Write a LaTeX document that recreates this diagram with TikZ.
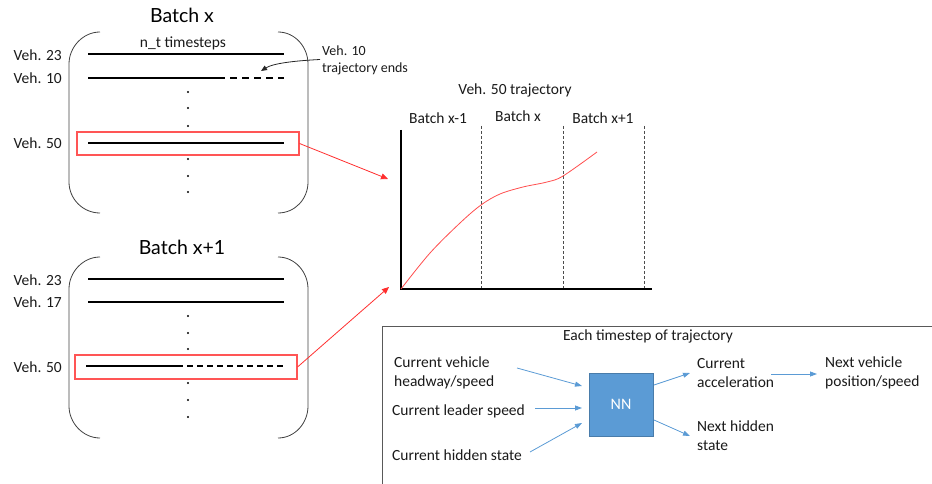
\documentclass[tikz,border=0pt]{standalone}
\usepackage{fontspec}
\setmainfont{Carlito}
\newfontfamily\titlefont{Lato}
\usetikzlibrary{arrows.meta}
\definecolor{boxred}{HTML}{FF5555}
\definecolor{arrred}{HTML}{FF2E2E}
\definecolor{nnblue}{HTML}{5B9BD5}
\definecolor{txt}{HTML}{1A1A1A}
\begin{document}
\begin{tikzpicture}[x=1pt,y=-1pt,
  lbl/.style={font=\fontsize{15.5}{19}\selectfont, text=txt, inner sep=0pt, align=left},
  ttl/.style={font=\titlefont\fontsize{19.5}{22}\selectfont, text=black, inner sep=0pt},
  traj/.style={line width=1.4pt, black},
  bracket/.style={draw=black!75, line width=0.8pt},
  redbox/.style={draw=boxred, line width=1.1pt, minimum width=222pt, minimum height=23pt, inner sep=0pt},
  redarr/.style={draw=arrred, line width=0.8pt, -{Triangle[length=7pt,width=6pt]}},
  bluearr/.style={draw=nnblue, line width=0.8pt, -{Triangle[length=7pt,width=5pt]}},
  vdot/.style={circle, fill=black, inner sep=0pt, minimum size=2.2pt},
  griddash/.style={draw=black!70, line width=0.7pt, dash pattern=on 3pt off 2pt},
]
\useasboundingbox (0,0) rectangle (932,484);

% ---------- Batch x ----------
\node[ttl] (t1) at (182,15) {Batch x};
\draw[bracket] (100,32) .. controls (83,32) and (69,47) .. (69,64) -- (69,182) .. controls (69,199) and (83,213) .. (100,213);
\draw[bracket] (278,32) .. controls (295,32) and (308,47) .. (308,64) -- (308,182) .. controls (308,199) and (295,213) .. (278,213);
\node[lbl] (nt) at (183,43) {n\_t timesteps};
\node[lbl, anchor=east] (v23a) at (62,55) {Veh. 23};
\node[lbl, anchor=east] (v10) at (62,78) {Veh. 10};
\node[lbl, anchor=east] (v50a) at (62,143) {Veh. 50};
\coordinate (l1s) at (88,54); \coordinate (l1e) at (284,54);
\draw[traj] (l1s) -- (l1e);
\coordinate (l2s) at (88,78); \coordinate (l2m) at (218,78); \coordinate (l2e) at (284,78);
\draw[traj] (l2s) -- (l2m);
\draw[traj, dash pattern=on 7pt off 5pt] (l2m) -- (l2e);
\node[redbox] (rb1) at (188,143.5) {};
\coordinate (l3s) at (88,143); \coordinate (l3e) at (284,143);
\draw[traj] (l3s) -- (l3e);
\foreach \y [count=\i] in {92,108,126,159,176,192} \node[vdot] (da\i) at (188,\y) {};
\node[font=\fontsize{14}{17}\selectfont, text=txt, inner sep=0pt, align=left, anchor=west] (endtxt) at (322,60.5) {Veh. 10\\trajectory ends};
\coordinate (endtip) at (261,71);
\draw[black!85, line width=0.8pt, -{Triangle[length=6pt,width=5pt]}] ([xshift=-2pt,yshift=1pt]endtxt.west) .. controls (290,61) and (272,64) .. (endtip);

% ---------- Batch x+1 ----------
\node[ttl] (t2) at (182,247) {Batch x+1};
\draw[bracket] (100,257) .. controls (83,257) and (69,272) .. (69,289) -- (69,406) .. controls (69,423) and (83,438) .. (100,438);
\draw[bracket] (278,257) .. controls (295,257) and (308,272) .. (308,289) -- (308,406) .. controls (308,423) and (295,438) .. (278,438);
\node[lbl, anchor=east] (v23b) at (62,280) {Veh. 23};
\node[lbl, anchor=east] (v17) at (62,302) {Veh. 17};
\node[lbl, anchor=east] (v50b) at (62,367) {Veh. 50};
\coordinate (m1s) at (88,279); \coordinate (m1e) at (284,279);
\draw[traj] (m1s) -- (m1e);
\coordinate (m2s) at (88,302); \coordinate (m2e) at (284,302);
\draw[traj] (m2s) -- (m2e);
\node[redbox, minimum height=24pt] (rb2) at (186,367) {};
\coordinate (m3s) at (86,366); \coordinate (m3m) at (177,366); \coordinate (m3e) at (284,366);
\draw[traj] (m3s) -- (m3m);
\draw[traj, dash pattern=on 6pt off 4pt] (m3m) -- (m3e);
\foreach \y [count=\i] in {316,333,349,383,400,417} \node[vdot] (db\i) at (188,\y) {};

% ---------- trajectory plot ----------
\node[lbl] (ptitle) at (515,90) {Veh. 50 trajectory};
\node[lbl] (bx1) at (438,118) {Batch x-1};
\node[lbl] (bx) at (518,116) {Batch x};
\node[lbl] (bx2) at (603,118) {Batch x+1};
\coordinate (ytop) at (401,130);
\coordinate (O) at (401,289);
\coordinate (xend) at (652,289);
\draw[griddash] (481,126) -- (481,289);
\draw[griddash] (563,126) -- (563,289);
\draw[griddash] (644,126) -- (644,289);
\draw[traj] (ytop) -- (O) -- (xend);
\draw[draw=arrred!85, line width=0.8pt] plot[smooth, tension=0.55] coordinates {(401,289) (430,253) (460,223) (481,205) (500,194) (523,187) (547,182) (563,176) (597,152)};
\coordinate (p1) at (388,179);
\coordinate (p2) at (389,287);
\draw[redarr] (rb1.east) -- (p1);
\draw[redarr] (rb2.east) -- (p2);

% ---------- per-timestep box ----------
\draw[draw=black!65, line width=0.8pt] (932,326) -- (382,326) -- (382,484);
\node[lbl] (each) at (648,336) {Each timestep of trajectory};
\node[draw=nnblue!80!black, line width=0.4pt, fill=nnblue, minimum width=64pt, minimum height=63pt, inner sep=0pt, text=white, font=\fontsize{16}{19}\selectfont] (nn) at (621,404.5) {NN};
\node[lbl, anchor=west] (in1) at (394,372.5) {Current vehicle\\headway/speed};
\node[lbl, anchor=west] (in2) at (392,411) {Current leader speed};
\node[lbl, anchor=west] (in3) at (392,455) {Current hidden state};
\node[lbl, anchor=west] (out1) at (697,373) {Current\\acceleration};
\node[lbl, anchor=west] (out2) at (697,436) {Next hidden\\state};
\node[lbl, anchor=west] (out3) at (825,373) {Next vehicle\\position/speed};
\coordinate (a1s) at (517,368); \coordinate (a1e) at (582,386);
\coordinate (a2s) at (535,408); \coordinate (a2e) at (582,408);
\coordinate (a3s) at (530,452); \coordinate (a3e) at (582,423);
\coordinate (b1s) at (654,385); \coordinate (b1e) at (690,373);
\coordinate (b2s) at (654,420); \coordinate (b2e) at (690,436);
\coordinate (c1s) at (771,374); \coordinate (c1e) at (817,374);
\draw[bluearr] (a1s) -- (a1e);
\draw[bluearr] (a2s) -- (a2e);
\draw[bluearr] (a3s) -- (a3e);
\draw[bluearr] (b1s) -- (b1e);
\draw[bluearr] (b2s) -- (b2e);
\draw[bluearr] (c1s) -- (c1e);
\end{tikzpicture}
\end{document}
